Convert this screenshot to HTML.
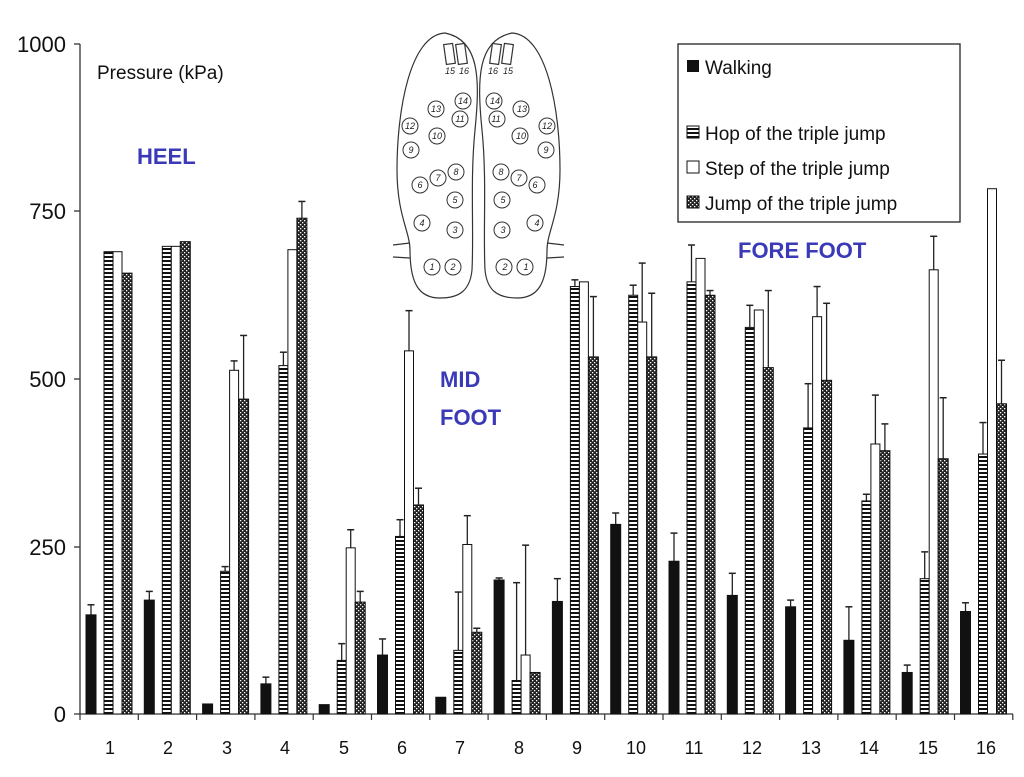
<!DOCTYPE html>
<html><head><meta charset="utf-8"><style>
body{margin:0;background:#fff}
svg text{font-family:"Liberation Sans",Arial,sans-serif}
</style></head><body>
<svg id="s" width="1024" height="772" viewBox="0 0 1024 772" xmlns="http://www.w3.org/2000/svg">
<defs>
<pattern id="hop" width="4" height="4" patternUnits="userSpaceOnUse">
<rect width="4" height="4" fill="#fff"/><rect width="4" height="2" fill="#111"/></pattern>
<pattern id="jmp" width="4" height="4" patternUnits="userSpaceOnUse">
<rect width="4" height="4" fill="#222"/><rect x="0" y="0" width="1.3" height="1.3" fill="#fff"/><rect x="2" y="2" width="1.3" height="1.3" fill="#fff"/></pattern>
</defs>
<g id="axes" stroke="#333" stroke-width="1.3">
<line x1="80" y1="44" x2="80" y2="714"/>
<line x1="74" y1="714" x2="1013" y2="714"/>
<line x1="74" y1="44" x2="80" y2="44"/><line x1="74" y1="211" x2="80" y2="211"/>
<line x1="74" y1="379" x2="80" y2="379"/><line x1="74" y1="547" x2="80" y2="547"/>
</g>
<g font-size="22" text-anchor="end" fill="#111">
<text x="66" y="52">1000</text><text x="66" y="219">750</text><text x="66" y="387">500</text><text x="66" y="555">250</text><text x="66" y="722">0</text>
</g>
<g font-size="18" text-anchor="middle" fill="#111">
<text x="110" y="754">1</text><text x="168" y="754">2</text><text x="227" y="754">3</text><text x="285" y="754">4</text><text x="344" y="754">5</text><text x="402" y="754">6</text><text x="460" y="754">7</text><text x="519" y="754">8</text><text x="577" y="754">9</text><text x="636" y="754">10</text><text x="694" y="754">11</text><text x="752" y="754">12</text><text x="811" y="754">13</text><text x="869" y="754">14</text><text x="928" y="754">15</text><text x="986" y="754">16</text>
</g>
<g id="bars"></g>
<text x="97" y="79" font-size="19" fill="#111">Pressure (kPa)</text>
<g fill="#3a3ab8" font-weight="bold" font-size="22">
<text x="137" y="164">HEEL</text>
<text x="440" y="387">MID</text><text x="440" y="425">FOOT</text>
<text x="738" y="258">FORE FOOT</text>
</g>
<rect x="678" y="44" width="282" height="178" fill="#fff" stroke="#222" stroke-width="1.3"/>
<rect x="687" y="60" width="12" height="12" fill="#111"/>
<rect x="687" y="126" width="12" height="12" fill="url(#hop)" stroke="#111"/>
<rect x="687" y="161" width="12" height="12" fill="#fff" stroke="#111"/>
<rect x="687" y="196" width="12" height="12" fill="url(#jmp)" stroke="#111"/>
<g font-size="19" fill="#111">
<text x="705" y="74">Walking</text>
<text x="705" y="140">Hop of the triple jump</text>
<text x="705" y="175">Step of the triple jump</text>
<text x="705" y="210">Jump of the triple jump</text>
</g>
<g fill="none" stroke="#333" stroke-width="1.2">
<g id="foot">
<path d="M445,33 C410,35 397,110 397,170 C397,215 410,232 410,250 C410,285 420,298 440,298 C460,298 470,290 472,270 C474,230 470,180 475,130 C480,80 480,40 445,33 Z"/>
<path d="M393,245 L410,243 M393,257 L410,258"/>
<rect x="445" y="44" width="9" height="20" transform="rotate(-8 449 54)"/>
<rect x="457" y="44" width="9" height="20" transform="rotate(-8 461 54)"/>
</g>
<use href="#foot" transform="translate(957,0) scale(-1,1)"/>
</g>
<g id="circ" fill="#fff" stroke="#333" stroke-width="1"></g>
<g font-size="9" font-style="italic" text-anchor="middle" fill="#222">
<text x="432" y="270">1</text><text x="453" y="270">2</text><text x="455" y="233">3</text><text x="422" y="226">4</text><text x="455" y="203">5</text><text x="420" y="188">6</text><text x="438" y="181">7</text><text x="456" y="175">8</text><text x="411" y="153">9</text><text x="437" y="139">10</text><text x="460" y="122">11</text><text x="410" y="129">12</text><text x="436" y="112">13</text><text x="463" y="104">14</text>
<text x="526" y="270">1</text><text x="505" y="270">2</text><text x="503" y="233">3</text><text x="537" y="226">4</text><text x="503" y="203">5</text><text x="535" y="188">6</text><text x="519" y="181">7</text><text x="501" y="175">8</text><text x="546" y="153">9</text><text x="521" y="139">10</text><text x="496" y="122">11</text><text x="547" y="129">12</text><text x="522" y="112">13</text><text x="495" y="104">14</text>
<text x="450" y="74">15</text><text x="464" y="74">16</text><text x="493" y="74">16</text><text x="508" y="74">15</text>
</g>
<script>
var d=[[148,163,690,0,690,0,658,0],[170,183,698,0,698,0,705,0],[15,0,213,220,513,527,470,565],[45,55,520,540,693,0,740,765],[14,0,80,105,248,275,167,183],[88,112,265,290,542,602,312,337],[25,0,95,182,253,296,122,128],[200,203,50,196,88,252,62,0],[168,202,638,648,645,0,533,623],[283,300,625,640,585,673,533,628],[228,270,645,700,680,0,625,632],[177,210,577,610,603,0,517,632],[160,170,427,493,593,638,498,613],[110,160,318,328,403,476,393,433],[62,73,202,242,663,713,381,472],[153,166,388,435,784,0,463,528]];
var fills=["#111","url(#hop)","#fff","url(#jmp)"],offs=[6,24,33,42],ws=[10,9,9,10],ns="http://www.w3.org/2000/svg",g=document.getElementById("bars");
function el(t,a){var e=document.createElementNS(ns,t);for(var k in a)e.setAttribute(k,a[k]);g.appendChild(e);}
function Y(v){return 714-0.67*v;}
for(var i=0;i<=16;i++){var x0=80+58.3*i;
el("line",{x1:x0,y1:714,x2:x0,y2:720,stroke:"#333","stroke-width":1.2});
if(i==16)break;
for(var j=0;j<4;j++){var v=d[i][2*j],e=d[i][2*j+1],x=x0+offs[j],w=ws[j];
if(e>v){el("line",{x1:x+w/2,y1:Y(v),x2:x+w/2,y2:Y(e),stroke:"#222","stroke-width":1.3});el("line",{x1:x+w/2-3.5,y1:Y(e),x2:x+w/2+3.5,y2:Y(e),stroke:"#222","stroke-width":1.5});}
el("rect",{x:x,y:Y(v),width:w,height:714-Y(v),fill:fills[j],stroke:"#111","stroke-width":1});}}
var c=[[432,267],[453,267],[455,230],[422,223],[455,200],[420,185],[438,178],[456,172],[411,150],[437,136],[460,119],[410,126],[436,109],[463,101]],cg=document.getElementById("circ");
c.forEach(function(p){[p[0],957-p[0]].forEach(function(x){var e=document.createElementNS(ns,"circle");e.setAttribute("cx",x);e.setAttribute("cy",p[1]);e.setAttribute("r",8);cg.appendChild(e);});});
</script>
</svg>
</body></html>
